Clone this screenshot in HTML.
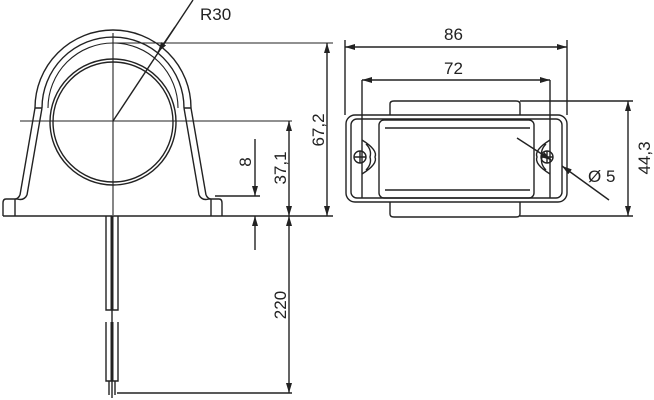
<!DOCTYPE html>
<html><head><meta charset="utf-8"><style>
html,body{margin:0;padding:0;background:#fff;}
svg{display:block;}
text{font-family:"Liberation Sans",sans-serif;font-size:17px;fill:#222;}
</style></head><body>
<svg width="654" height="400" viewBox="0 0 654 400" xmlns="http://www.w3.org/2000/svg">
<defs>
<marker id="a" viewBox="0 0 10 6" refX="10" refY="3" markerWidth="10" markerHeight="6" orient="auto-start-reverse" markerUnits="userSpaceOnUse"><path d="M0,0L10,3L0,6z" fill="#222"/></marker>
</defs>
<g stroke="#222" stroke-width="1.4" fill="none">
<path d="M35,108 A78,78 0 0 1 191,108"/>
<path d="M42,108 A71,71 0 0 1 184,108"/>
<path d="M48,108 A65,65 0 0 1 178,108" stroke-width="1.1"/>
<circle cx="113" cy="122" r="63"/>
<circle cx="113" cy="122" r="60"/>
<path d="M35,108 L20,195 M42,108 L27,195 M35,108 L42,108"/>
<path d="M191,108 L206,195 M184,108 L199,195 M184,108 L191,108"/>
<path d="M27,195 Q24,201 17,199 L6,199 Q3,199 3,203 L3,216 M15,199 L15,216 M20,195 Q18,199 15,199"/>
<path d="M199,195 Q202,201 209,199 L219,199 Q222,199 222,203 L222,216 M211,199 L211,216 M206,195 Q208,199 211,199"/>
<line x1="3" y1="216" x2="333" y2="216"/>
<line x1="113" y1="33" x2="113" y2="215" stroke-width="1.1"/>
<line x1="20" y1="121" x2="292" y2="121" stroke-width="1.1"/>
<line x1="113" y1="43" x2="333" y2="43" stroke-width="1.1"/>
<line x1="113" y1="121" x2="193" y2="0"/>
<line x1="175" y1="27" x2="158" y2="52" marker-end="url(#a)"/>
<line x1="327" y1="43" x2="327" y2="216" marker-start="url(#a)" marker-end="url(#a)"/>
<line x1="289" y1="121" x2="289" y2="216" marker-start="url(#a)" marker-end="url(#a)"/>
<line x1="215" y1="196" x2="260" y2="196"/>
<line x1="255" y1="139" x2="255" y2="196" marker-end="url(#a)"/>
<line x1="255" y1="250" x2="255" y2="216" marker-end="url(#a)"/>
<line x1="289" y1="216" x2="289" y2="393" marker-start="url(#a)" marker-end="url(#a)"/>
<line x1="117" y1="393" x2="292" y2="393"/>
<path d="M106,216 L106,310 L118,310 L118,216 M106,322 L106,381 L118,381 L118,322"/>
<line x1="112" y1="216" x2="112" y2="310" stroke-width="3"/>
<line x1="112" y1="322" x2="112" y2="381" stroke-width="3"/>
<line x1="112" y1="310" x2="112" y2="322"/>
<path d="M109,381 L109,395 M112,381 L112,398 M115,381 L115,395"/>
<rect x="346" y="115" width="221" height="87" rx="9"/>
<rect x="351" y="119" width="211" height="79" rx="6"/>
<rect x="379" y="120" width="155" height="78" rx="5"/>
<line x1="385" y1="128" x2="530" y2="128"/>
<line x1="385" y1="190" x2="530" y2="190"/>
<path d="M390,115 L390,104 Q390,101 394,101 L516,101 Q520,101 520,104 L520,115"/>
<path d="M390,202 L390,214 Q390,217 394,217 L516,217 Q520,217 520,214 L520,202"/>
<line x1="362" y1="80" x2="362" y2="198"/>
<line x1="550" y1="80" x2="550" y2="198"/>
<path d="M362,140 Q378,150 375,157 Q378,164 362,174 M366,144 Q372,150 370,157 Q372,164 366,170"/>
<path d="M550,140 Q534,150 537,157 Q534,164 550,174 M546,144 Q540,150 542,157 Q540,164 546,170"/>
<circle cx="360" cy="157" r="6"/><path d="M354,157 H366 M360,151 V163"/>
<circle cx="547" cy="157" r="6"/><path d="M541,157 H553 M547,151 V163"/>
<line x1="345" y1="40" x2="345" y2="115"/>
<line x1="567" y1="40" x2="567" y2="115"/>
<line x1="345" y1="47" x2="567" y2="47" marker-start="url(#a)" marker-end="url(#a)"/>
<line x1="362" y1="80" x2="550" y2="80" marker-start="url(#a)" marker-end="url(#a)"/>
<line x1="520" y1="101" x2="633" y2="101"/>
<line x1="520" y1="216" x2="633" y2="216"/>
<line x1="628" y1="101" x2="628" y2="216" marker-start="url(#a)" marker-end="url(#a)"/>
<line x1="517" y1="138" x2="551" y2="160" marker-end="url(#a)"/>
<line x1="609" y1="200" x2="562" y2="166" marker-end="url(#a)"/>
</g>
<text x="200" y="20">R30</text>
<text x="444" y="40">86</text>
<text x="444" y="74">72</text>
<text x="588" y="182">Ø 5</text>
<text transform="translate(324,130) rotate(-90)" text-anchor="middle">67,2</text>
<text transform="translate(286,168) rotate(-90)" text-anchor="middle">37,1</text>
<text transform="translate(251,162) rotate(-90)" text-anchor="middle">8</text>
<text transform="translate(286,305) rotate(-90)" text-anchor="middle">220</text>
<text transform="translate(650,158) rotate(-90)" text-anchor="middle">44,3</text>
</svg>
</body></html>
